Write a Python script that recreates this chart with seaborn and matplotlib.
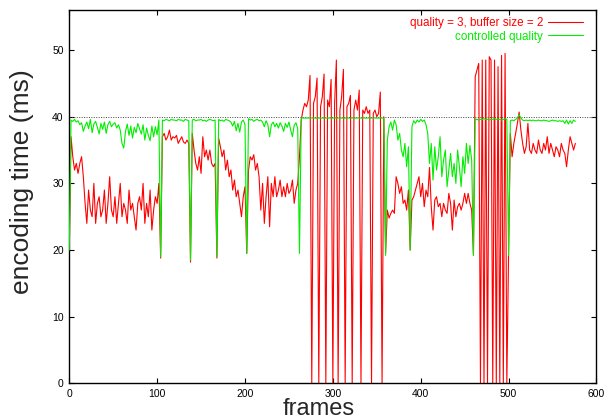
import numpy as np
import pandas as pd
import matplotlib
matplotlib.use("Agg")
import matplotlib.pyplot as plt
import seaborn as sns

# encoding time per frame (ms), one value every 2 frames
step = 2
red_ms = [
    20, 37, 34, 32, 33, 31.5, 33, 34, 31, 27,            # 0
    24, 29, 26, 25, 30, 24, 27, 28, 25, 26,              # 20
    29, 24, 27, 31, 26, 25, 28, 24, 27, 30,              # 40
    25, 27, 26, 24, 29, 26, 27, 25, 23, 27,              # 60
    28, 26, 30, 24, 27, 25, 29, 23, 26, 28,              # 80
    27, 30, 18.8, 37, 37.5, 36.5, 37, 38, 36.5, 37,      # 100
    36.8, 37.2, 36, 36.5, 37, 36.2, 36, 36.5, 36, 18.2,  # 120
    37.5, 35, 33, 32, 34, 31.5, 37, 34, 35, 33.5,        # 140
    35, 33, 32.5, 33, 18.8, 36.8, 35.5, 34, 35, 32,      # 160
    33.5, 31, 32, 29, 30.5, 28, 29, 27, 25, 28,          # 180
    29.5, 19.5, 32, 34, 33.5, 34.3, 32, 33, 31, 26,      # 200
    30, 24, 28, 31, 23.5, 30, 28, 31, 28, 29,            # 220
    30.5, 28, 29.5, 28, 30, 28.5, 29, 30.5, 27, 29,      # 240
    30, 34, 39.5, 41, 42, 41.5, 42.5, 46.2, 0, 42,       # 260
    43, 45.8, 0, 41.5, 43, 46.4, 0, 42.5, 41.5, 45.6,    # 280
    0, 42, 48.5, 0, 41, 43, 47.1, 0, 41.5, 42,           # 300
    43.2, 0, 41, 42.5, 41, 44, 0, 41, 40.5, 41.5,        # 320
    40.5, 41, 0, 40.5, 41, 40, 40.5, 43.7, 0, 40,        # 340
    19.5, 26, 24.8, 25.5, 26, 25.5, 31, 30, 28.5, 29.5,  # 360
    27, 27.5, 26, 29, 20, 27.5, 28, 29, 30, 31,          # 380
    28, 30, 26.5, 29, 28, 32.4, 26.5, 23, 27.5, 28,      # 400
    26.5, 27, 25, 27, 26, 25.5, 28.5, 27, 23, 27.5,      # 420
    25, 26.5, 27, 26, 27, 28.5, 27, 28.5, 27, 26,        # 440
    19.2, 46, 47, 48, 0, 48.5, 0, 48.5, 0, 49,           # 460
    48.5, 0, 48.5, 0, 47.5, 0, 49.2, 0, 49.5, 0,         # 480
    19.5, 37.5, 34, 36, 37.5, 39, 40.7, 38, 36, 34.5,    # 500
    35.5, 39, 35, 34.5, 36, 35, 34.5, 36.5, 35, 34.5,    # 520
    36, 35, 37, 34.5, 36, 35, 34, 35.5, 35, 34,          # 540
    36, 35, 34.5, 32.5, 35, 37, 36, 35, 36,              # 560
]
green_ms = [
    20, 39.5, 39.3, 39.6, 39.2, 39.4, 38.8, 39.1, 37.8, 38.6,      # 0
    39.2, 38.2, 39.6, 37.6, 38.9, 39.3, 38.4, 37.4, 39.0, 38.1,    # 20
    39.2, 37.5, 38.8, 39.3, 38.5, 38.9, 39.1, 38.3, 38.8, 38.0,    # 40
    36.0, 35.3, 37.8, 38.9, 37.2, 38.6, 36.8, 38.4, 37.6, 39.0,    # 60
    38.2, 37.4, 38.8, 36.5, 38.3, 37.2, 36.4, 38.6, 37.0, 38.5,    # 80
    37.3, 39.5, 19, 39.5, 39.4, 39.6, 39.5, 39.4, 39.6, 39.5,      # 100
    39.5, 39.4, 39.6, 39.5, 39.5, 39.3, 39.6, 39.5, 39.4, 18.5,    # 120
    39.5, 39.6, 39.4, 39.5, 39.5, 39.6, 39.4, 39.5, 39.3, 39.5,    # 140
    39.6, 39.5, 39.4, 39.5, 19, 39.6, 39.4, 39.5, 39.3, 39.6,      # 160
    39.5, 39.4, 39.2, 38.6, 39.3, 37.9, 39.0, 37.7, 39.2, 39.5,    # 180
    38.8, 19.5, 39.7, 39.5, 39.6, 39.3, 39.5, 39.6, 39.4, 39.5,    # 200
    39.2, 38.5, 39.4, 38.8, 37.0, 38.8, 39.2, 38.5, 39.0, 38.3,    # 220
    39.1, 38.6, 37.8, 39.0, 38.4, 39.2, 38.0, 37.0, 38.7, 39.1,    # 240
    38.2, 19.5, 39.8, 39.8, 39.8, 39.8, 39.8, 39.8, 39.8, 39.8,    # 260
    39.8, 39.8, 39.8, 39.8, 39.8, 39.8, 39.8, 39.8, 39.8, 39.8,    # 280
    39.8, 39.8, 39.8, 39.8, 39.8, 39.8, 39.8, 39.8, 39.8, 39.8,    # 300
    39.8, 39.8, 39.8, 39.8, 39.8, 39.8, 39.8, 39.8, 39.8, 39.8,    # 320
    39.8, 39.8, 39.8, 39.8, 39.8, 39.8, 39.8, 39.8, 39.8, 39.8,    # 340
    19.2, 36.5, 38.5, 39.2, 38.0, 39.5, 38.8, 36.5, 37.5, 35,      # 360
    34, 36, 32.5, 35.5, 20, 38.5, 39.4, 39.0, 39.5, 39.2,          # 380
    39.6, 39.3, 39.5, 38.8, 37.5, 33, 36, 30.5, 35.5, 32,          # 400
    34, 37, 31, 33.5, 35, 29.5, 32, 34.5, 31, 33,                  # 420
    30, 35, 32.5, 29.5, 34, 31.5, 36, 33, 35.7, 33.5,              # 440
    19.2, 39.6, 39.6, 39.5, 39.6, 39.6, 39.7, 39.6, 39.6, 39.5,    # 460
    39.6, 39.6, 39.7, 39.6, 39.6, 39.6, 39.5, 39.6, 39.7, 39.6,    # 480
    19.2, 39.4, 39.5, 39.4, 39.6, 39.8, 40.3, 39.8, 39.5, 39.4,    # 500
    39.5, 39.4, 39.5, 39.4, 39.5, 39.4, 39.4, 39.5, 39.4, 39.4,    # 520
    39.5, 39.4, 39.4, 39.3, 39.4, 39.5, 39.4, 39.4, 39.3, 39.4,    # 540
    39.3, 39.4, 39.0, 39.5, 38.9, 39.4, 39.0, 39.5, 39.3,          # 560
]
target_ms = 40
red_label = "quality = 3, buffer size = 2"
green_label = "controlled quality"

red_df = pd.DataFrame({"frame": np.arange(len(red_ms)) * step, "ms": red_ms})
green_df = pd.DataFrame({"frame": np.arange(len(green_ms)) * step, "ms": green_ms})

sns.set_style("ticks")
plt.rcParams["font.family"] = ["Liberation Sans", "DejaVu Sans"]

fig = plt.figure(figsize=(6.13, 4.19), dpi=100)
ax = fig.add_axes([0.113, 0.085, 0.86, 0.891])

ax.axhline(target_ms, color="#444444", ls=(0, (1, 1.5)), lw=0.7, zorder=1)
sns.lineplot(data=red_df, x="frame", y="ms", ax=ax, color="#ff0000", lw=0.8,
             label=red_label, zorder=2)
sns.lineplot(data=green_df, x="frame", y="ms", ax=ax, color="#00ee00", lw=0.8,
             label=green_label, zorder=3)

ax.set_xlim(0, 600)
ax.set_ylim(0, 56)
ax.set_xticks(range(0, 601, 100))
ax.set_yticks(range(0, 51, 10))
ax.tick_params(direction="in", top=True, right=True, length=3.5, width=0.8,
               labelsize=7.5, pad=4, colors="black")
for s in ax.spines.values():
    s.set_linewidth(1.0)
    s.set_color("black")

ax.set_xlabel("frames", fontsize=17, labelpad=-1)
ax.xaxis.set_label_coords(0.474, -0.038)
ax.set_ylabel("encoding time (ms)", fontsize=19)
ax.yaxis.set_label_coords(-0.066, 0.54)

leg = ax.legend(loc="upper right", bbox_to_anchor=(0.975, 0.982), frameon=False,
                markerfirst=False, fontsize=8.4, handlelength=3.0, handletextpad=0.45,
                labelspacing=0.15, labelcolor="linecolor", borderaxespad=0, borderpad=0)

fig.savefig("out.png", dpi=100)
